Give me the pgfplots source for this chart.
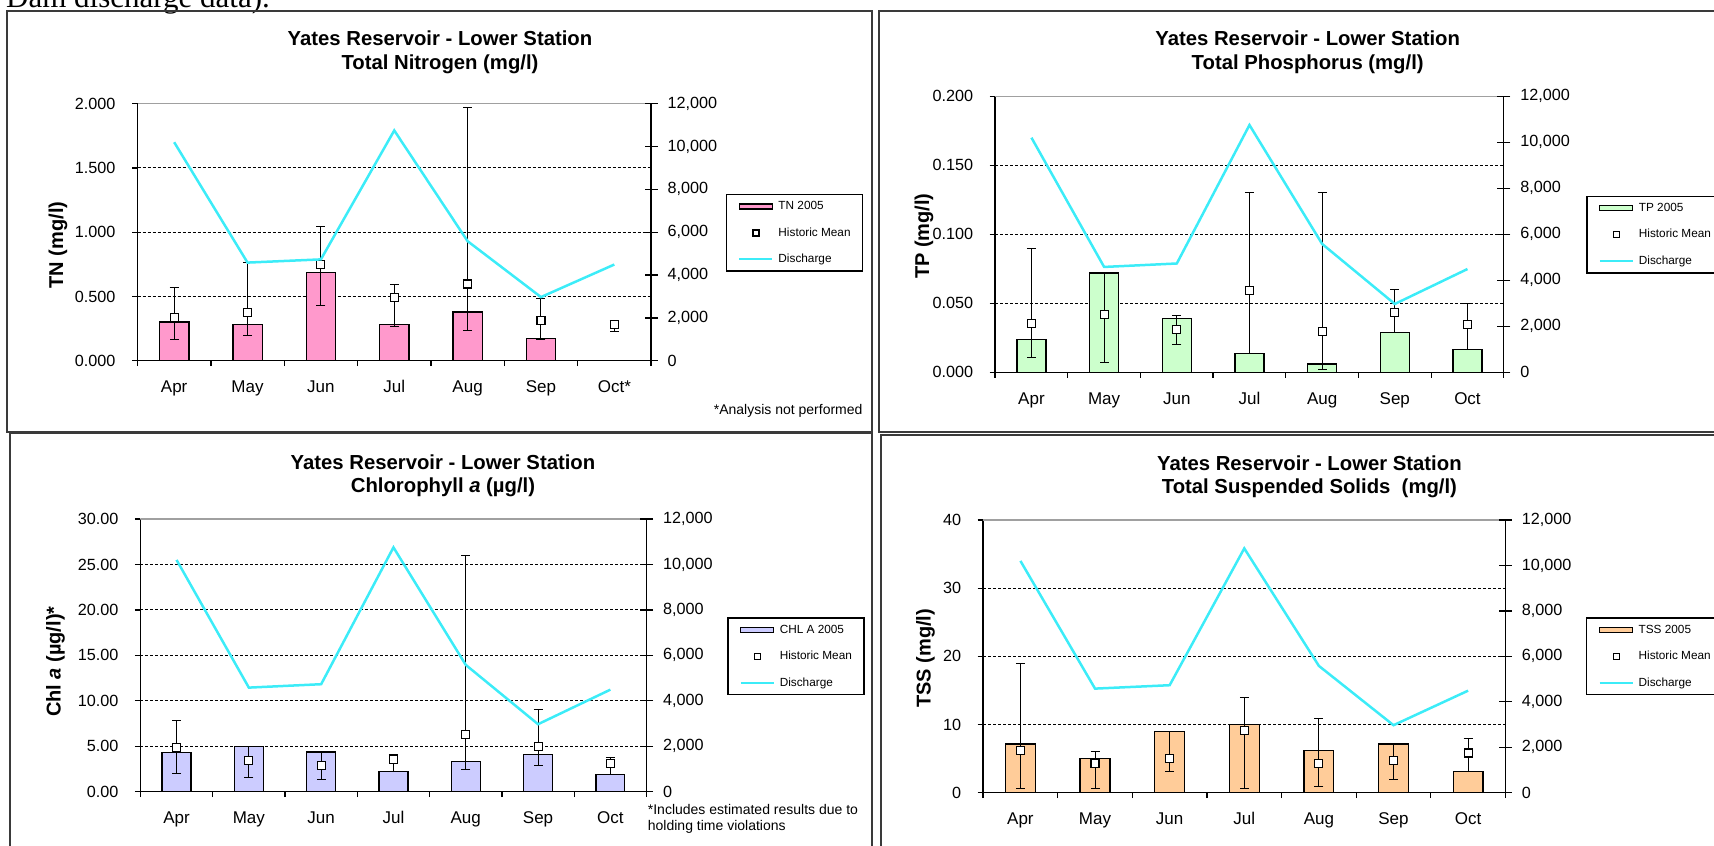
\documentclass[border=0pt]{standalone}
\usepackage{fontspec}
\setmainfont{Liberation Sans}
\newfontfamily\docserif{Liberation Serif}
\usepackage{pgfplots}
\usepackage{pgfplotstable}
\pgfplotsset{compat=1.18}

\definecolor{tnfill}{HTML}{FF99CC}
\definecolor{tpfill}{HTML}{CCFFCC}
\definecolor{chlfill}{HTML}{CCCCFF}
\definecolor{tssfill}{HTML}{FFCC99}
\definecolor{discharge}{HTML}{3CECF8}
\definecolor{framegray}{HTML}{3A3A3A}
\definecolor{topgray}{HTML}{A0A0A0}

\newcommand\titlefont{\fontsize{20.3bp}{24bp}\selectfont\bfseries}
\newcommand\tickfont{\fontsize{16.2bp}{19bp}\selectfont}
\newcommand\monthfont{\fontsize{17bp}{20bp}\selectfont}
\newcommand\ylabfont{\fontsize{20bp}{24bp}\selectfont\bfseries}
\newcommand\legfont{\fontsize{11.8bp}{14bp}\selectfont}
\newcommand\notefont{\fontsize{14bp}{16bp}\selectfont}

% monthly values: 2005 result, historic mean, historic min and max
\pgfplotstableread{
x bar   mean  lo    hi
0 0.300 0.335 0.163 0.573
1 0.280 0.376 0.197 0.763
2 0.685 0.750 0.428 1.043
3 0.280 0.495 0.267 0.594
4 0.380 0.597 0.233 1.969
5 0.170 0.311 0.166 0.485
6 nan   0.283 0.225 0.316
}\tndata

\pgfplotstableread{
x bar    mean   lo     hi
0 0.0240 0.0355 0.0104 0.0900
1 0.0720 0.0420 0.0068 0.0720
2 0.0390 0.0310 0.0198 0.0413
3 0.0135 0.0590 0.0135 0.1300
4 0.0060 0.0297 0.0017 0.1300
5 0.0290 0.0430 0.0290 0.0597
6 0.0164 0.0345 0.0164 0.0500
}\tpdata

\pgfplotstableread{
x bar  mean lo   hi
0 4.33 4.85 2.03 7.81
1 5.00 3.40 1.60 5.00
2 4.36 2.90 1.32 4.36
3 2.24 3.56 2.24 4.07
4 3.34 6.27 2.46 25.93
5 4.07 4.95 2.90 9.09
6 1.91 3.15 1.91 3.74
}\chldata

\pgfplotstableread{
x bar  mean lo   hi
0 7.14 6.21 0.59 18.97
1 4.99 4.30 0.59 5.97
2 9.00 4.99 3.08 9.00
3 9.98 9.14 0.59 14.03
4 6.16 4.30 0.98 10.95
5 7.14 4.69 1.91 7.00
6 3.08 5.82 3.08 8.02
}\tssdata

% dam discharge, right axis
\pgfplotstableread{
x flow
0 10200
1 4580
2 4730
3 10750
4 5580
5 2970
6 4490
}\flowdata

\pgfplotsset{
  panel/.style={
    scale only axis, xmin=-0.5, xmax=6.5, ymin=0,
    xtick={-0.5,0.5,1.5,2.5,3.5,4.5,5.5,6.5},
    x tick label as interval,
    axis x line*=bottom, axis y line*=left,
    axis line style={-, black, line width=1.3bp},
    tick align=outside, major tick length=5.5bp,
    tick style={black, line width=1.3bp},
    ymajorgrids, grid style={black, line width=0.9bp, dash pattern=on 3bp off 2bp},
    scaled y ticks=false,
    /pgf/number format/assume math mode=true,
    yticklabel style={font=\tickfont, xshift=-13bp},
    xticklabel style={font=\monthfont, yshift=-10.5bp, text height=12.5bp, text depth=3.5bp},
    ylabel style={font=\ylabfont, anchor=center},
    legend cell align=left,
    legend style={anchor=north west, draw=black, line width=1.5bp, fill=white,
      inner xsep=12bp, inner ysep=6bp, font=\legfont, row sep=15bp,
      nodes={inner sep=0pt, text height=9bp, text depth=2.5bp},
      /tikz/every odd column/.append style={column sep=5bp}},
  },
  flow/.style={
    scale only axis, xmin=-0.5, xmax=6.5, ymin=0, ymax=12000,
    ytick={0,2000,4000,6000,8000,10000,12000},
    axis x line=none, axis y line*=right,
    axis line style={-, black, line width=1.3bp},
    tick align=center, major tick length=13bp,
    tick style={black, line width=1.3bp},
    scaled y ticks=false,
    /pgf/number format/assume math mode=true,
    /pgf/number format/1000 sep={,},
    yticklabel style={font=\tickfont, xshift=6.5bp},
  },
  bars/.style={ybar, bar width=0.40, fill=#1, draw=black, line width=1.3bp,
    legend image code/.code={\draw[fill=#1, draw=black, line width=1.2bp] (0bp,-2.5bp) rectangle (33bp,2.5bp);}},
  means/.style={only marks, mark=square*, mark size=4bp,
    mark options={fill=white, draw=black, line width=1.1bp},
    legend image code/.code={\draw[fill=white, draw=black, line width=1.1bp] (13.5bp,-3bp) rectangle (19.5bp,3bp);},
    error bars/y dir=both, error bars/y explicit,
    error bars/error bar style={black, line width=1bp},
    error bars/error mark options={rotate=90, mark size=4.5bp, black, line width=1bp}},
  flowline/.style={discharge, line width=2.5bp, mark=none},
}

\newcommand\flowkey{\addlegendimage{legend image code/.code={\draw[discharge, line width=2bp] (0bp,0bp) -- (33bp,0bp);}}\addlegendentry{Discharge}}
\newcommand\topline{\draw[topgray, line width=1.5bp] (rel axis cs:0,1) -- (rel axis cs:1,1);}

\begin{document}
\begin{tikzpicture}[x=1bp, y=1bp]
\useasboundingbox (0,0) rectangle (1714,846);
\clip (0,0) rectangle (1714,846);

% running text of the page above the figures
\node[font={\docserif\fontsize{31bp}{36bp}\selectfont}, anchor=base west, inner sep=0pt] at (6,838.5) {Dam discharge data).};

% panel frames
\draw[framegray, line width=2bp] (7.3,414.3) rectangle (871.7,835);
\draw[framegray, line width=2bp] (879.3,414.3) rectangle (1730,835);
\draw[framegray, line width=2bp] (10,-10) rectangle (871.7,412.5);
\draw[framegray, line width=2bp] (880.7,-10) rectangle (1730,410.5);

% ---------------- Total Nitrogen ----------------
\begin{axis}[panel, at={(137.5bp,485.3bp)}, anchor=south west, width=513.5bp, height=257bp,
  ymax=2, ytick={0,0.5,1,1.5,2},
  /pgf/number format/fixed, /pgf/number format/fixed zerofill, /pgf/number format/precision=3,
  xticklabels={Apr,May,Jun,Jul,Aug,Sep,Oct*},
  ylabel={TN (mg/l)}, ylabel style={at={(axis description cs:-0.1548,0.450)}},
  legend style={at={(axis description cs:1.1455,0.6486)}}]
\addplot[bars=tnfill] table[x=x, y=bar] \tndata; \addlegendentry{TN 2005}
\addplot[means] table[x=x, y=mean, y error plus expr=\thisrow{hi}-\thisrow{mean}, y error minus expr=\thisrow{mean}-\thisrow{lo}] \tndata; \addlegendentry{Historic Mean}
\flowkey
\topline
\end{axis}
\begin{axis}[flow, at={(137.5bp,485.3bp)}, anchor=south west, width=513.5bp, height=257bp]
\addplot[flowline] table[x=x, y=flow] \flowdata;
\end{axis}

% ---------------- Total Phosphorus ----------------
\begin{axis}[panel, at={(995.1bp,473.7bp)}, anchor=south west, width=508.7bp, height=276bp,
  ymax=0.2, ytick={0,0.05,0.1,0.15,0.2},
  /pgf/number format/fixed, /pgf/number format/fixed zerofill, /pgf/number format/precision=3,
  xticklabels={Apr,May,Jun,Jul,Aug,Sep,Oct},
  ylabel={TP (mg/l)}, ylabel style={at={(axis description cs:-0.1398,0.493)}},
  legend style={at={(axis description cs:1.1618,0.6399)}}]
\addplot[bars=tpfill] table[x=x, y=bar] \tpdata; \addlegendentry{TP 2005}
\addplot[means] table[x=x, y=mean, y error plus expr=\thisrow{hi}-\thisrow{mean}, y error minus expr=\thisrow{mean}-\thisrow{lo}] \tpdata; \addlegendentry{Historic Mean}
\flowkey
\topline
\end{axis}
\begin{axis}[flow, at={(995.1bp,473.7bp)}, anchor=south west, width=508.7bp, height=276bp]
\addplot[flowline] table[x=x, y=flow] \flowdata;
\end{axis}

% ---------------- Chlorophyll a ----------------
\begin{axis}[panel, at={(140.4bp,54.3bp)}, anchor=south west, width=506.1bp, height=272.7bp,
  ymax=30, ytick={0,5,10,15,20,25,30},
  /pgf/number format/fixed, /pgf/number format/fixed zerofill, /pgf/number format/precision=2,
  xticklabels={Apr,May,Jun,Jul,Aug,Sep,Oct},
  ylabel={Chl \textit{a} (µg/l)*}, ylabel style={at={(axis description cs:-0.1678,0.4767)}},
  legend style={at={(axis description cs:1.1591,0.6395)}}]
\addplot[bars=chlfill] table[x=x, y=bar] \chldata; \addlegendentry{CHL A 2005}
\addplot[means] table[x=x, y=mean, y error plus expr=\thisrow{hi}-\thisrow{mean}, y error minus expr=\thisrow{mean}-\thisrow{lo}] \chldata; \addlegendentry{Historic Mean}
\flowkey
\topline
\end{axis}
\begin{axis}[flow, at={(140.4bp,54.3bp)}, anchor=south west, width=506.1bp, height=272.7bp]
\addplot[flowline] table[x=x, y=flow] \flowdata;
\end{axis}

% ---------------- Total Suspended Solids ----------------
\begin{axis}[panel, at={(983.1bp,53.3bp)}, anchor=south west, width=522.3bp, height=272.7bp,
  ymax=40, ytick={0,10,20,30,40},
  xticklabels={Apr,May,Jun,Jul,Aug,Sep,Oct},
  ylabel={TSS (mg/l)}, ylabel style={at={(axis description cs:-0.1105,0.4929)}},
  legend style={at={(axis description cs:1.1540,0.6432)}}]
\addplot[bars=tssfill] table[x=x, y=bar] \tssdata; \addlegendentry{TSS 2005}
\addplot[means] table[x=x, y=mean, y error plus expr=\thisrow{hi}-\thisrow{mean}, y error minus expr=\thisrow{mean}-\thisrow{lo}] \tssdata; \addlegendentry{Historic Mean}
\flowkey
\topline
\end{axis}
\begin{axis}[flow, at={(983.1bp,53.3bp)}, anchor=south west, width=522.3bp, height=272.7bp]
\addplot[flowline] table[x=x, y=flow] \flowdata;
\end{axis}

% titles
\node[font=\titlefont, anchor=base] at (440,800.7) {Yates Reservoir - Lower Station};
\node[font=\titlefont, anchor=base] at (440,776.7) {Total Nitrogen (mg/l)};
\node[font=\titlefont, anchor=base] at (1307.7,800.7) {Yates Reservoir - Lower Station};
\node[font=\titlefont, anchor=base] at (1307.7,776.7) {Total Phosphorus (mg/l)};
\node[font=\titlefont, anchor=base] at (443,376.7) {Yates Reservoir - Lower Station};
\node[font=\titlefont, anchor=base] at (443,353.3) {Chlorophyll \textit{a} (µg/l)};
\node[font=\titlefont, anchor=base] at (1309.4,375.7) {Yates Reservoir - Lower Station};
\node[font=\titlefont, anchor=base] at (1309.4,352.3) {Total Suspended Solids\ \ (mg/l)};

% footnotes
\node[font=\notefont, anchor=base east, inner sep=0pt] at (862.7,431) {*Analysis not performed};
\node[font=\notefont, anchor=base west, inner sep=0pt] at (647.7,31) {*Includes estimated results due to};
\node[font=\notefont, anchor=base west, inner sep=0pt] at (647.7,15) {holding time violations};
\end{tikzpicture}
\end{document}
